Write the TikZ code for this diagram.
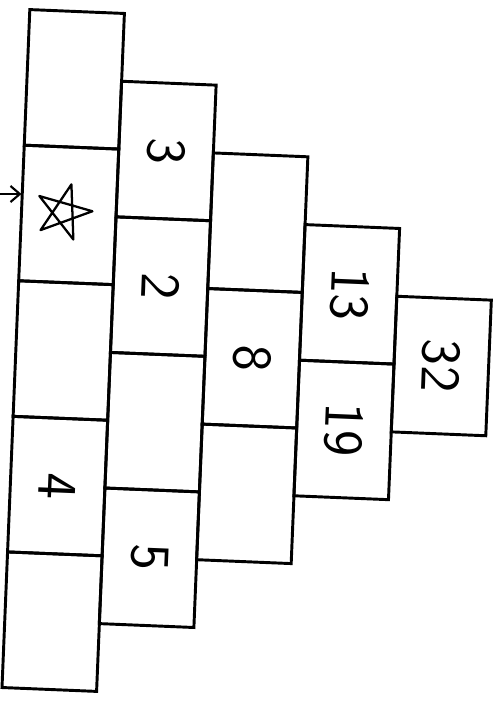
\documentclass[tikz,border=0pt]{standalone}
\usepackage{amsmath}
\usepackage{tikz}
\usetikzlibrary{arrows.meta}

\begin{document}
\begin{tikzpicture}[x=0.75pt,y=0.75pt,
  cell/.style={draw=black, line width=2.2pt, rectangle, inner sep=0pt, outer sep=0pt,
    minimum width=101.8pt, minimum height=71pt, rotate=-92.35,
    font=\sffamily\fontsize{42}{42}\selectfont},
  starline/.style={draw=black, line width=1.7pt, line join=round},
  pointer/.style={draw=black, line width=1.6pt, -{Straight Barb[length=7pt,width=12pt]}}]
\useasboundingbox (0,0) rectangle (493,701);

\begin{scope}[shift={(63.2,350.5)}, rotate=-2.35]
%Shape: Rectangle [column 1]
\node[cell] (c1r1) at (0,271.4) {};
\node[cell] (c1r2) at (0,135.7) {};
\node[cell] (c1r3) at (0,0) {};
\node[cell] (c1r4) at (0,-135.7) {4};
\node[cell] (c1r5) at (0,-271.4) {};
%Shape: Rectangle [column 2]
\node[cell] (c2r1) at (94.6,203.55) {3};
\node[cell] (c2r2) at (94.6,67.85) {2};
\node[cell] (c2r3) at (94.6,-67.85) {};
\node[cell] (c2r4) at (94.6,-203.55) {5};
%Shape: Rectangle [column 3]
\node[cell] (c3r1) at (189.2,135.7) {};
\node[cell] (c3r2) at (189.2,0) {8};
\node[cell] (c3r3) at (189.2,-135.7) {};
%Shape: Rectangle [column 4]
\node[cell] (c4r1) at (283.8,67.85) {13};
\node[cell] (c4r2) at (283.8,-67.85) {19};
%Shape: Rectangle [column 5]
\node[cell] (c5r1) at (378.4,0) {32};
\end{scope}

%Shape: Star
\draw[starline, shift={(c1r2.center)}, xshift=-4pt, yshift=2pt] (2:29) -- (146:29) -- (290:29) -- (74:29) -- (218:29) -- cycle;
%Straight Lines [arrow]
\coordinate (arrowtail) at (0,507);
\draw[pointer] (arrowtail) -- (arrowtail -| c1r2.south);

\end{tikzpicture}
\end{document}
